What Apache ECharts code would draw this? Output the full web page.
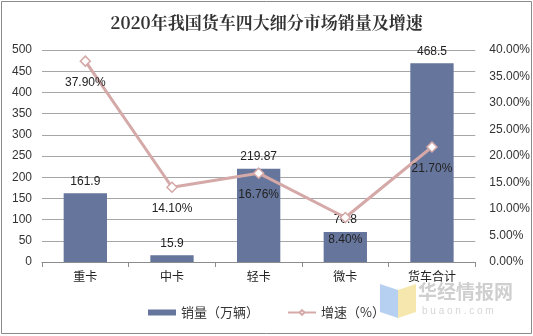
<!DOCTYPE html>
<html><head><meta charset="utf-8">
<script src="https://cdn.jsdelivr.net/npm/echarts@6/dist/echarts.min.js"></script>
<style>html,body{margin:0;padding:0;background:#fff}#c{width:533px;height:336px}</style>
</head><body><div id="c"></div>
<script>
var categories = ['重卡', '中卡', '轻卡', '微卡', '货车合计'];
var sales = [161.9, 15.9, 219.87, 70.8, 468.5];
var growth = [37.90, 14.10, 16.76, 8.40, 21.70];
var leftTicks = [0, 50, 100, 150, 200, 250, 300, 350, 400, 450, 500];

var chart = echarts.init(document.getElementById('c'));
chart.setOption({
  animation: false,
  backgroundColor: '#fff',
  title: {
    text: '2020年我国货车四大细分市场销量及增速',
    left: 'center', top: 9,
    textStyle: {fontFamily: 'Noto Serif CJK SC, Noto Sans CJK SC, serif', fontSize: 17, fontWeight: 'bold', color: '#333'}
  },
  graphic: [
    {type: 'rect', shape: {x: 1.5, y: 1.5, width: 530, height: 332}, style: {fill: 'none', stroke: '#8a8a8a', lineWidth: 1}},
    {type: 'polygon', shape: {points: [[380, 284], [398, 290], [398, 318], [380, 312]]}, style: {fill: '#a9c8f0', opacity: 0.85}},
    {type: 'polygon', shape: {points: [[398, 290], [416, 284], [416, 312], [398, 318]]}, style: {fill: '#f4e3a0', opacity: 0.85}},
    {type: 'text', left: 418, top: 282, style: {text: '华经情报网', fontSize: 19, fontWeight: 'bold', fill: '#cfcfcf', fontFamily: 'Noto Sans CJK SC'}},
    {type: 'text', left: 422, top: 306, style: {text: 'b u a o n . c o m', fontSize: 10, fill: '#d6d6d6', fontFamily: 'Arial'}}
  ],
  legend: {
    bottom: 12, left: 'center', itemGap: 28, itemWidth: 28, itemHeight: 6,
    textStyle: {fontSize: 13, color: '#333', fontFamily: 'Noto Sans CJK SC'},
    data: [
      {name: '销量（万辆）', icon: 'rect'},
      {name: '增速（%）'}
    ]
  },
  grid: {left: 42, right: 55, top: 50, bottom: 74},
  xAxis: {
    type: 'category', data: categories,
    axisLine: {lineStyle: {color: '#8c8c8c'}},
    axisTick: {show: true, alignWithLabel: false, lineStyle: {color: '#8c8c8c'}},
    axisLabel: {fontSize: 12, color: '#222', fontFamily: 'Noto Sans CJK SC', margin: 8}
  },
  yAxis: [
    {type: 'value', min: 0, max: 500, interval: 50,
     axisLine: {show: false}, axisTick: {show: false},
     axisLabel: {fontSize: 12, color: '#333', fontFamily: 'Arial', margin: 10},
     splitLine: {lineStyle: {color: '#a6a6a6'}}},
    {type: 'value', min: 0, max: 40, interval: 5,
     axisLine: {show: false}, axisTick: {show: false},
     axisLabel: {fontSize: 12, color: '#333', fontFamily: 'Arial', margin: 14,
       formatter: function (v) { return v.toFixed(2) + '%'; }},
     splitLine: {show: false}}
  ],
  series: [
    {name: '销量（万辆）', type: 'bar', data: sales, barWidth: '50%',
     itemStyle: {color: '#66759b'},
     label: {show: true, position: 'top', distance: 6, fontSize: 12, color: '#222', fontFamily: 'Arial'}},
    {name: '增速（%）', type: 'line', yAxisIndex: 1, data: growth,
     symbol: 'diamond', symbolSize: 10,
     lineStyle: {color: '#d4a9a8', width: 3},
     itemStyle: {color: '#fff', borderColor: '#d4a9a8', borderWidth: 1.5},
     label: {show: true, position: 'bottom', distance: 10, fontSize: 12, color: '#222', fontFamily: 'Arial',
       formatter: function (p) { return p.value.toFixed(2) + '%'; }}}
  ]
});
</script></body></html>
